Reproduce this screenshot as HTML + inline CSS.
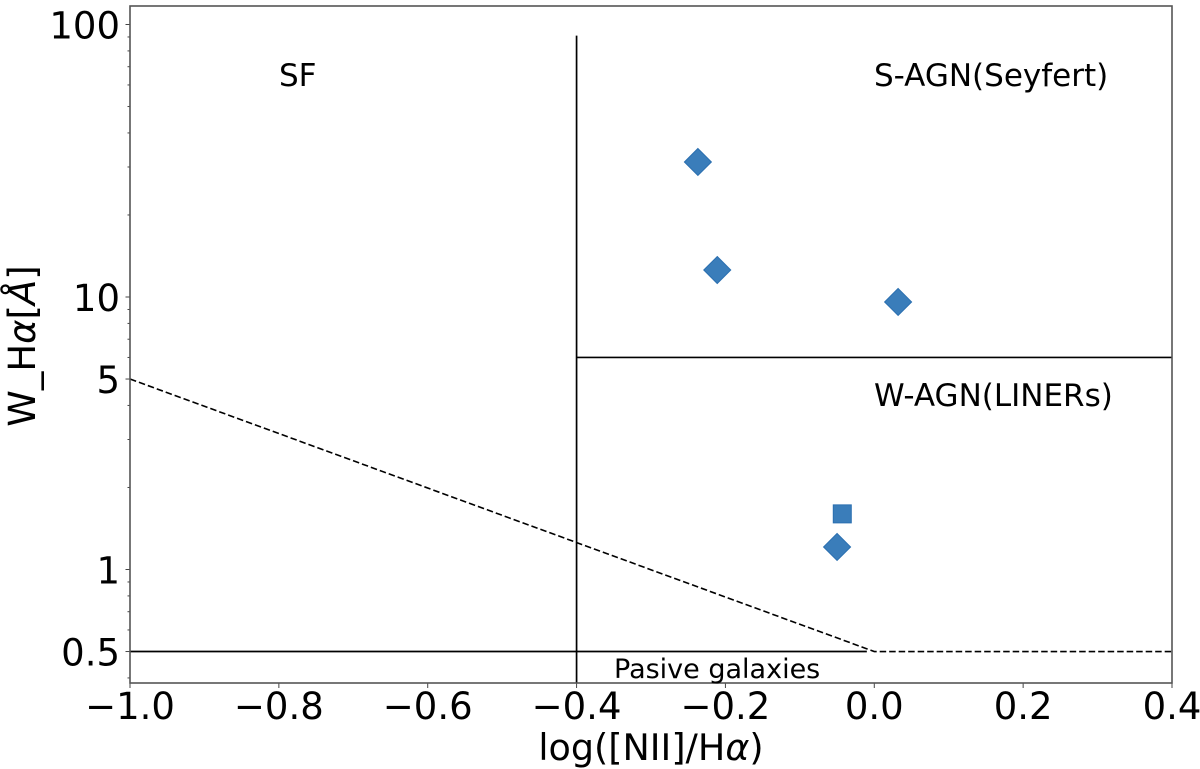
<!DOCTYPE html>
<html lang="en">
<head>
<meta charset="utf-8">
<title>WHAN diagram</title>
<style>
html,body{margin:0;padding:0;background:#fff;width:1200px;height:769px;overflow:hidden}
svg{display:block}
text{font-family:"DejaVu Sans","Liberation Sans",sans-serif;fill:#000}
</style>
</head>
<body>
<svg id="chart" width="1200" height="769" viewBox="0 0 1200 769" xmlns="http://www.w3.org/2000/svg">
  <rect x="0" y="0" width="1200" height="769" fill="#fff"/>
  <g id="lines"></g>
  <g id="points"></g>
  <g id="ticks"></g>
  <rect x="130" y="6" width="1042" height="677" fill="none" stroke="#555" stroke-width="1.6"/>
  <text x="279" y="86" font-size="31">SF</text>
  <text x="874" y="86" font-size="31">S-AGN(Seyfert)</text>
  <text x="874" y="406" font-size="31">W-AGN(LINERs)</text>
  <text x="614" y="678" font-size="27">Pasive galaxies</text>
  <text x="651" y="760" font-size="36.5" text-anchor="middle">log([NII]/H<tspan font-style="italic">α</tspan>)</text>
  <text transform="translate(35,346) rotate(-90)" font-size="37" text-anchor="middle">W_H<tspan font-style="italic">α</tspan>[<tspan font-style="italic">Å</tspan>]</text>
</svg>
<script>
const xTickValues = [-1.0, -0.8, -0.6, -0.4, -0.2, 0.0, 0.2, 0.4];
const xTickLabels = ['\u22121.0', '\u22120.8', '\u22120.6', '\u22120.4', '\u22120.2', '0.0', '0.2', '0.4'];
const yTickValues = [0.5, 1, 5, 10, 100];
const yTickLabels = ['0.5', '1', '5', '10', '100'];
const yMinorTicks = [0.4, 0.6, 0.7, 0.8, 0.9, 2, 3, 4, 6, 7, 8, 9, 20, 30, 40, 50, 60, 70, 80, 90];
const diamondX = [-0.237, -0.211, 0.032, -0.050];
const diamondY = [31.3, 12.56, 9.59, 1.21];
const squareX = [-0.043];
const squareY = [1.6];
const solidVerticalX = [-0.4, -0.4];
const solidVerticalY = [91, 0.383];
const solidUpperX = [-0.4, 0.4];
const solidUpperY = [6, 6];
const solidLowerX = [-1.0, -0.01];
const solidLowerY = [0.5, 0.5];
const dashedX = [-1.0, 0.0, 0.4];
const dashedY = [5, 0.5, 0.5];

const NS = 'http://www.w3.org/2000/svg';
function sx(v) { return 130 + (v + 1.0) * (1042 / 1.4); }
function sy(v) { return 569.5 - Math.log10(v) * 272.5; }
function make(tag, attrs) {
  const el = document.createElementNS(NS, tag);
  for (const k in attrs) el.setAttribute(k, attrs[k]);
  return el;
}
function polyPoints(xs, ys) {
  return xs.map((x, i) => sx(x).toFixed(2) + ',' + sy(ys[i]).toFixed(2)).join(' ');
}

const linesG = document.getElementById('lines');
const v = make('polyline', { points: polyPoints(solidVerticalX, solidVerticalY), fill: 'none', stroke: '#000', 'stroke-width': 1.7 });


linesG.appendChild(v);
const u = make('polyline', { points: polyPoints(solidUpperX, solidUpperY), fill: 'none', stroke: '#000', 'stroke-width': 1.7 });


linesG.appendChild(u);
const l = make('polyline', { points: polyPoints(solidLowerX, solidLowerY), fill: 'none', stroke: '#000', 'stroke-width': 1.7 });


linesG.appendChild(l);
const d = make('polyline', { points: polyPoints(dashedX, dashedY), fill: 'none', stroke: '#000', 'stroke-width': 1.6, 'stroke-dasharray': '6.5 3' });


linesG.appendChild(d);

const pointsG = document.getElementById('points');
diamondX.forEach((x, i) => {
  const cx = sx(x), cy = sy(diamondY[i]), r = 13.5;
  const p = make('polygon', {
    points: [[cx, cy - r], [cx + r, cy], [cx, cy + r], [cx - r, cy]].map(q => q.join(',')).join(' '),
    fill: '#3a7dba', stroke: '#2a6fb0', 'stroke-width': 1
  });
  
  
  pointsG.appendChild(p);
});
squareX.forEach((x, i) => {
  const cx = sx(x), cy = sy(squareY[i]), h = 9;
  const p = make('rect', {
    x: cx - h, y: cy - h, width: 2 * h, height: 2 * h,
    fill: '#3a7dba', stroke: '#2a6fb0', 'stroke-width': 1
  });
  
  
  pointsG.appendChild(p);
});

const ticksG = document.getElementById('ticks');
xTickValues.forEach((val, i) => {
  const x = sx(val);
  const t = make('line', { x1: x, x2: x, y1: 683, y2: 688, stroke: '#444', 'stroke-width': 1 });
  
  
  ticksG.appendChild(t);
  const lab = make('text', { x: x, y: 719, 'font-size': 37, 'text-anchor': 'middle' });
  lab.textContent = xTickLabels[i];
  
  
  ticksG.appendChild(lab);
});
yTickValues.forEach((val, i) => {
  const y = sy(val);
  const t = make('line', { x1: 125.5, x2: 130, y1: y, y2: y, stroke: '#444', 'stroke-width': 1 });
  
  
  ticksG.appendChild(t);
  const lab = make('text', { x: 120, y: y + 14, 'font-size': 37, 'text-anchor': 'end' });
  lab.textContent = yTickLabels[i];
  
  
  ticksG.appendChild(lab);
});
yMinorTicks.forEach((val) => {
  const y = sy(val);
  const t = make('line', { x1: 127.5, x2: 130, y1: y, y2: y, stroke: '#444', 'stroke-width': 1 });
  
  
  ticksG.appendChild(t);
});
</script>
</body>
</html>
